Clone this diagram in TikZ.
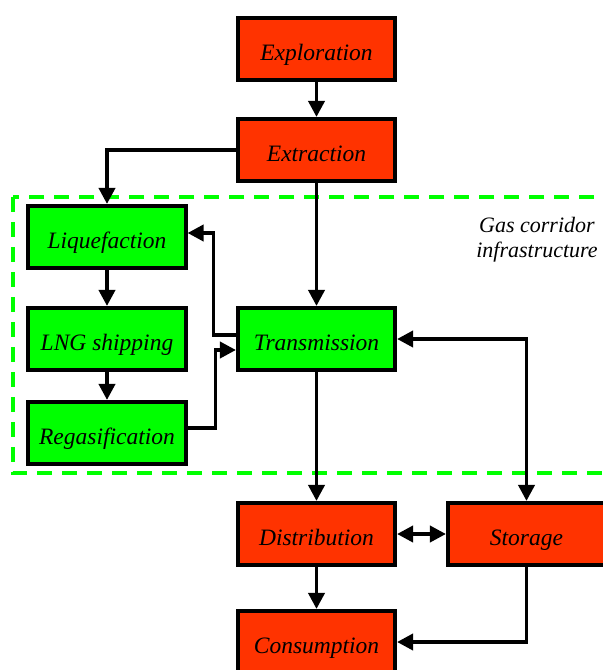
\documentclass[tikz,border=0pt]{standalone}
\usepackage{fontspec}
\setmainfont{Liberation Serif}
\usetikzlibrary{arrows.meta}
\definecolor{boxred}{RGB}{255,51,0}
\definecolor{boxgreen}{RGB}{0,255,0}
\tikzset{
  stage/.style={draw=black, line width=3.6pt, minimum width=157.5pt, minimum height=62.5pt,
    inner sep=0pt, text height=22pt, text depth=0pt,
    font=\fontsize{23.5}{27}\selectfont\itshape},
  redstage/.style={stage, fill=boxred},
  greenstage/.style={stage, fill=boxgreen},
  conn/.style={line width=3.7pt, -{Triangle[length=16pt,width=16pt]}},
  dconn/.style={line width=3.7pt, {Triangle[length=16pt,width=16pt]}-{Triangle[length=16pt,width=16pt]}},
  corridor/.style={draw=boxgreen, line width=4pt, dash pattern=on 15pt off 10pt}
}
\begin{document}
\begin{tikzpicture}[x=1pt,y=1pt]
\useasboundingbox (0,0) rectangle (603,-670);
\clip (0,0) rectangle (603,-670);
\fill[white] (0,0) rectangle (603,-670);
\draw[corridor] (13,-197) rectangle (640,-473);
\node[align=center, font=\fontsize{22}{25}\selectfont\itshape] (label) at (537,-240) {Gas corridor\\infrastructure};
\node[redstage] (expl) at (316.5,-49) {Exploration};
\node[redstage] (extr) at (316.5,-150) {Extraction};
\node[greenstage] (liq) at (107,-237) {Liquefaction};
\node[greenstage] (lng) at (107,-339) {LNG shipping};
\node[greenstage] (regas) at (107,-433) {Regasification};
\node[greenstage] (trans) at (316.5,-339) {Transmission};
\node[redstage] (dist) at (316.5,-534) {Distribution};
\node[redstage] (stor) at (526.5,-534) {Storage};
\node[redstage] (cons) at (316.5,-642) {Consumption};
\draw[conn] (expl) -- (extr);
\draw[conn] (extr.west) -| (liq.north);
\draw[conn] (extr) -- (trans);
\draw[conn] (liq) -- (lng);
\draw[conn] (lng) -- (regas);
\draw[conn] ([yshift=4pt]trans.west) -- ++(-22.5,0) |- ([yshift=4pt]liq.east);
\draw[conn] ([yshift=5pt]regas.east) -- ++(28,0) |- ([yshift=-11pt]trans.west);
\draw[dconn] (trans.east) -| (stor.north);
\draw[conn] (trans) -- (dist);
\draw[dconn] (dist) -- (stor);
\draw[conn] (dist) -- (cons);
\draw[conn] (stor.south) |- (cons.east);
\end{tikzpicture}
\end{document}
